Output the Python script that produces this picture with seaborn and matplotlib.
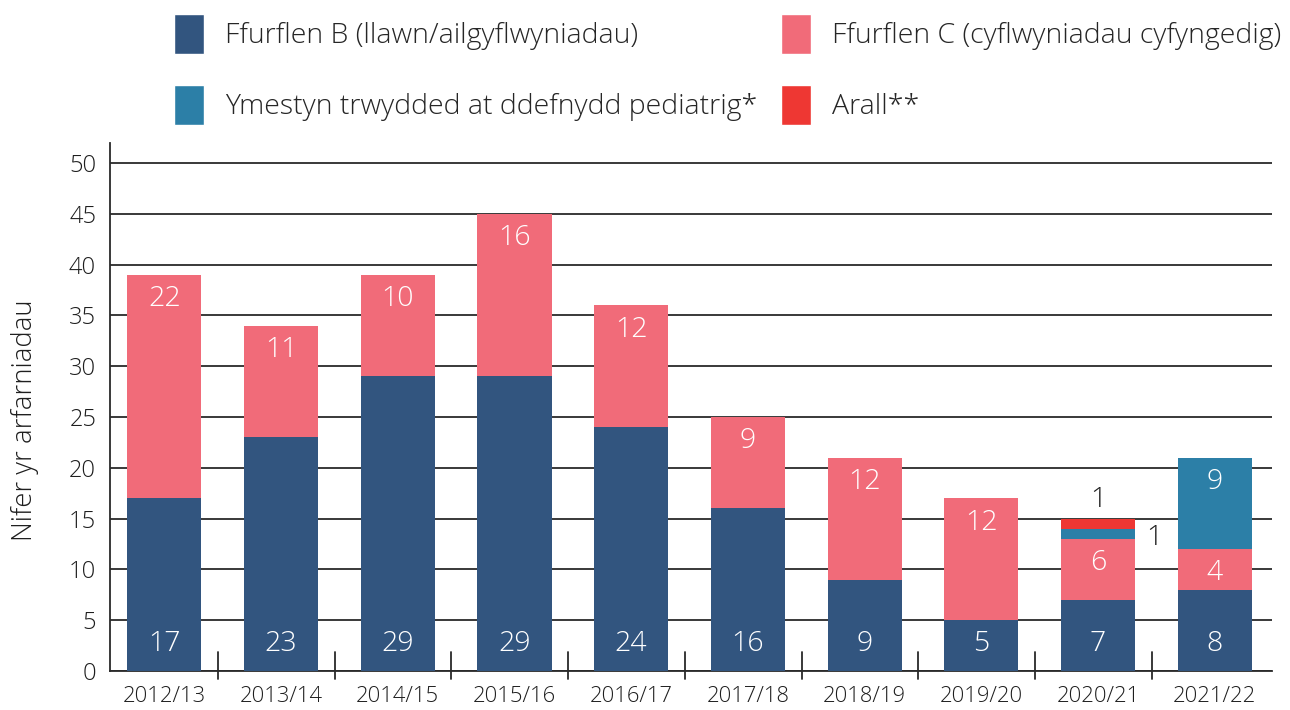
import numpy as np
import pandas as pd
import matplotlib
matplotlib.use("Agg")
import matplotlib.pyplot as plt
from matplotlib.patches import Patch
import seaborn as sns

# Assessment counts per year, split by submission type
years = ["2012/13", "2013/14", "2014/15", "2015/16", "2016/17",
         "2017/18", "2018/19", "2019/20", "2020/21", "2021/22"]
form_b = [17, 23, 29, 29, 24, 16, 9, 5, 7, 8]
form_c = [22, 11, 10, 16, 12, 9, 12, 12, 6, 4]
paediatric = [0, 0, 0, 0, 0, 0, 0, 0, 1, 9]
other = [0, 0, 0, 0, 0, 0, 0, 0, 1, 0]

series_names = ["Ffurflen B (llawn/ailgyflwyniadau)",
                "Ffurflen C (cyflwyniadau cyfyngedig)",
                "Ymestyn trwydded at ddefnydd pediatrig*",
                "Arall**"]
y_label = "Nifer yr arfarniadau"
y_ticks = [0, 5, 10, 15, 20, 25, 30, 35, 40, 45, 50]

COL_B = "#32557f"
COL_C = "#f16b79"
COL_P = "#2c7fa7"
COL_O = "#ee3733"
INK = "#1e1e1e"

sns.set_theme(style="white")
plt.rcParams["font.family"] = ["Open Sans", "DejaVu Sans"]
plt.rcParams["font.weight"] = "light"

df = pd.DataFrame({"year": years, "b": form_b, "c": form_c,
                   "p": paediatric, "o": other})
df["bc"] = df["b"] + df["c"]
df["bcp"] = df["bc"] + df["p"]
df["bcpo"] = df["bcp"] + df["o"]

fig = plt.figure(figsize=(12.9, 7.1), dpi=100)
ax = fig.add_axes([0.0853, 0.0549, 0.9007, 0.7441])

# Stacked bars: draw cumulative totals from the top layer down
bw = 0.635
for col, color in [("bcpo", COL_O), ("bcp", COL_P), ("bc", COL_C), ("b", COL_B)]:
    sns.barplot(data=df, x="year", y=col, color=color, width=bw,
                saturation=1, edgecolor="none", linewidth=0, ax=ax, zorder=3)

ax.set_xlim(-0.465, len(years) - 0.51)
ax.set_ylim(0, 52)
ax.set_yticks(y_ticks)
ax.yaxis.grid(True, color="#2a2a2a", linewidth=1.3, zorder=0)
ax.set_axisbelow(True)
ax.xaxis.grid(False)

for side in ["top", "right"]:
    ax.spines[side].set_visible(False)
for side in ["left", "bottom"]:
    ax.spines[side].set_color("#2a2a2a")
    ax.spines[side].set_linewidth(1.3)

ax.tick_params(axis="y", length=0, labelsize=17, labelcolor=INK, pad=10)
ax.tick_params(axis="x", length=0, labelsize=15.8, labelcolor=INK, pad=11)
for lab in ax.get_xticklabels() + ax.get_yticklabels():
    lab.set_fontweight("light")
ax.set_xlabel("")
ax.set_ylabel(y_label, fontsize=19.8, color=INK, fontweight="light")
ax.yaxis.set_label_coords(-0.061, 0.475)

# Separator ticks between categories, crossing the baseline
for i in range(len(years) - 1):
    ax.plot([i + 0.46, i + 0.46], [-0.8, 1.9], color="#2a2a2a", lw=1.3,
            clip_on=False, zorder=4)

# Value labels
lab_kw = dict(ha="center", va="center", fontsize=20.5, zorder=5, fontweight="light")
for i, row in df.iterrows():
    if row["b"] > 0:
        ax.text(i, 2.7, f"{row['b']}", color="white", **lab_kw)
    if row["c"] > 0:
        ax.text(i, row["bc"] - 2.4, f"{row['c']}", color="white", **lab_kw)
    if row["p"] >= 3:
        ax.text(i, row["bcp"] - 2.4, f"{row['p']}", color="white", **lab_kw)
    elif row["p"] > 0:
        ax.text(i + 0.48, row["bc"] + 0.1, f"{row['p']}", color=INK, **lab_kw)
    if row["o"] > 0:
        ax.text(i, row["bcpo"] + 1.8, f"{row['o']}", color=INK, **lab_kw)

handles = [Patch(facecolor=COL_B, label=series_names[0]),
           Patch(facecolor=COL_P, label=series_names[2]),
           Patch(facecolor=COL_C, label=series_names[1]),
           Patch(facecolor=COL_O, label=series_names[3])]
leg = fig.legend(handles=handles, ncol=2, loc="upper left",
                 bbox_to_anchor=(0.115, 1.017), frameon=False, fontsize=20.5,
                 handlelength=1.05, handleheight=1.8, handletextpad=0.75,
                 labelspacing=1.1, columnspacing=0.82, borderaxespad=0.5)
for t in leg.get_texts():
    t.set_fontweight("light")

fig.savefig("out.png", dpi=100)
